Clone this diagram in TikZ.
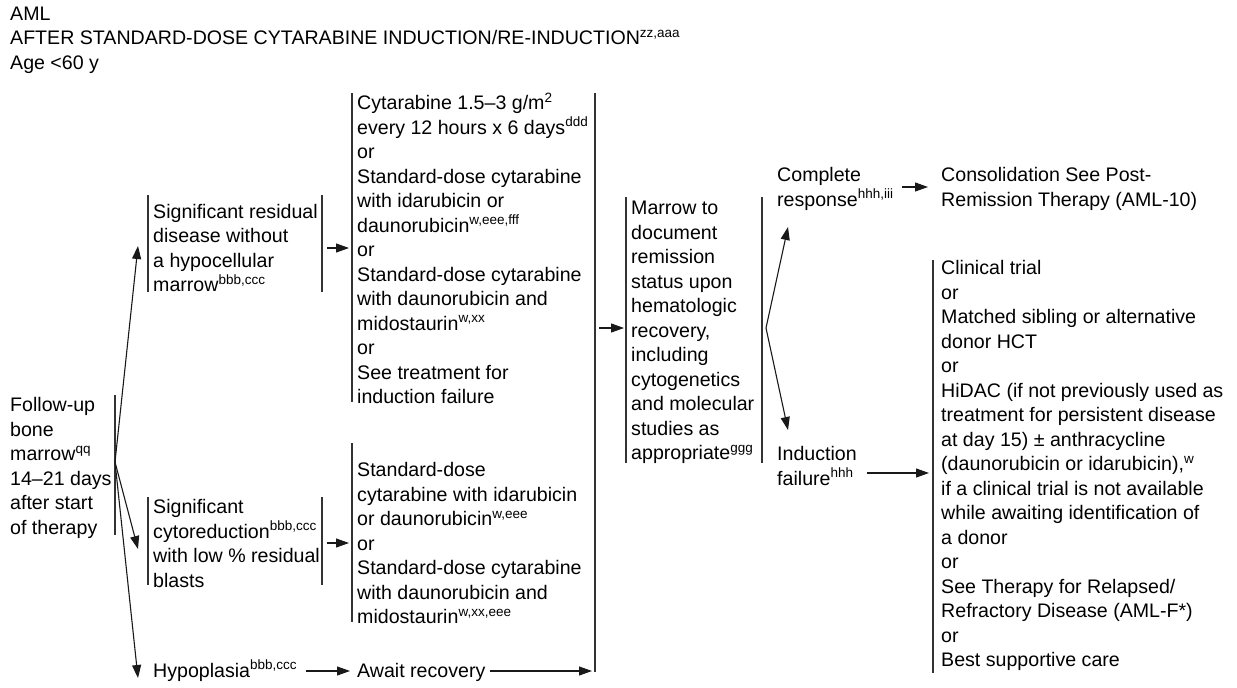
\documentclass[tikz,border=0pt]{standalone}
\usepackage{fontspec}
\setmainfont{Liberation Sans}
\usetikzlibrary{arrows.meta}
\newcommand\spx[1]{\raisebox{7.5pt}{\fontsize{13.5}{13.5}\selectfont #1}}
\newcommand\fst{\rule{0pt}{17.5pt}}
\begin{document}
\begin{tikzpicture}[x=1pt,y=-1pt,
  txt/.style={anchor=north west, inner sep=0pt, align=left, font=\fontsize{19.6}{24.5}\selectfont},
  brk/.style={line width=1.1pt, draw=black!80},
  arr/.style={line width=1.1pt, draw=black!90, -{Triangle[length=13pt,width=9pt]}}]
\useasboundingbox (0,0) rectangle (1237,688);

% title
\node[txt] (title) at (10,2.5) {\fst AML\\AFTER STANDARD-DOSE CYTARABINE INDUCTION/RE-INDUCTION\spx{zz,aaa}\\Age {<}60 y};

% follow-up
\node[txt] (fu) at (10,394) {\fst Follow-up\\bone\\marrow\spx{qq}\\14–21 days\\after start\\of therapy};
\draw[brk] (115,395) -- (115,535);
\coordinate (fub) at (115,462);

% significant residual
\node[txt] (sr) at (153,200.5) {\fst Significant residual\\disease without\\a hypocellular\\marrow\spx{bbb,ccc}};
\draw[brk] (148,195) -- (148,292);
\draw[brk] (322,195) -- (322,292);
\coordinate (srin) at (138,246);
\coordinate (srout) at (327,248);

% cytoreduction
\node[txt] (cy) at (153,496) {\fst Significant\\cytoreduction\spx{bbb,ccc}\\with low \% residual\\blasts};
\draw[brk] (148,497) -- (148,585);
\draw[brk] (322,497) -- (322,585);
\coordinate (cyin) at (138,549);
\coordinate (cyout) at (327,543);

% hypoplasia
\node[txt] (hy) at (153,659.5) {\fst Hypoplasia\spx{bbb,ccc}};
\coordinate (hyin) at (138,678);
\coordinate (hyout) at (306,671);

% top middle box
\node[txt] (tm) at (357,92) {\fst Cytarabine 1.5–3 g/m\spx{2}\\every 12 hours x 6 days\spx{ddd}\\or\\Standard-dose cytarabine\\with idarubicin or\\daunorubicin\spx{w,eee,fff}\\or\\Standard-dose cytarabine\\with daunorubicin and\\midostaurin\spx{w,xx}\\or\\See treatment for\\induction failure};
\draw[brk] (352,93) -- (352,402);
\coordinate (tmin) at (349,248);

% second middle box
\node[txt] (bm) at (357,459) {\fst Standard-dose\\cytarabine with idarubicin\\or daunorubicin\spx{w,eee}\\or\\Standard-dose cytarabine\\with daunorubicin and\\midostaurin\spx{w,xx,eee}};
\draw[brk] (352,443) -- (352,622);
\coordinate (bmin) at (349,543);

% await recovery
\node[txt] (aw) at (357,659.5) {\fst Await recovery};
\coordinate (awin) at (350,671);
\coordinate (awout) at (490,671);

% long right bracket of middle column
\draw[brk] (595,93) -- (595,672);
\coordinate (colout) at (599,328);
\coordinate (awend) at (592,671);

% marrow
\node[txt] (mw) at (631,197) {\fst Marrow to\\document\\remission\\status upon\\hematologic\\recovery,\\including\\cytogenetics\\and molecular\\studies as\\appropriate\spx{ggg}};
\draw[brk] (626,197) -- (626,463);
\draw[brk] (762,197) -- (762,463);
\coordinate (mwin) at (624,328);
\coordinate (mwb) at (766,328);

% complete response
\node[txt] (cr) at (777,164) {\fst Complete\\response\spx{hhh,iii}};
\coordinate (crin) at (788,227);
\coordinate (crout) at (902,187);
\node[txt] (cons) at (941,164) {\fst Consolidation See Post-\\Remission Therapy (AML-10)};
\coordinate (consin) at (928,187);

% induction failure
\node[txt] (ifl) at (777,443) {\fst Induction\\failure\spx{hhh}};
\coordinate (ifin) at (788,430);
\coordinate (ifout) at (867,473);

% right options
\node[txt] (opt) at (941,257) {\fst Clinical trial\\or\\Matched sibling or alternative\\donor HCT\\or\\HiDAC (if not previously used as\\treatment for persistent disease\\at day 15) ± anthracycline\\(daunorubicin or idarubicin),\spx{w}\\if a clinical trial is not available\\while awaiting identification of\\a donor\\or\\See Therapy for Relapsed/\\Refractory Disease (AML-F*)\\or\\Best supportive care};
\draw[brk] (933,260) -- (933,673);
\coordinate (optin) at (929,473);

% connectors
\draw[arr] (fub) -- (srin);
\draw[arr] (fub) -- (cyin);
\draw[arr] (fub) -- (hyin);
\draw[arr] (srout) -- (tmin);
\draw[arr] (cyout) -- (bmin);
\draw[arr] (hyout) -- (awin);
\draw[arr] (awout) -- (awend);
\draw[arr] (colout) -- (mwin);
\draw[arr] (mwb) -- (crin);
\draw[arr] (mwb) -- (ifin);
\draw[arr] (crout) -- (consin);
\draw[arr] (ifout) -- (optin);
\end{tikzpicture}
\end{document}
